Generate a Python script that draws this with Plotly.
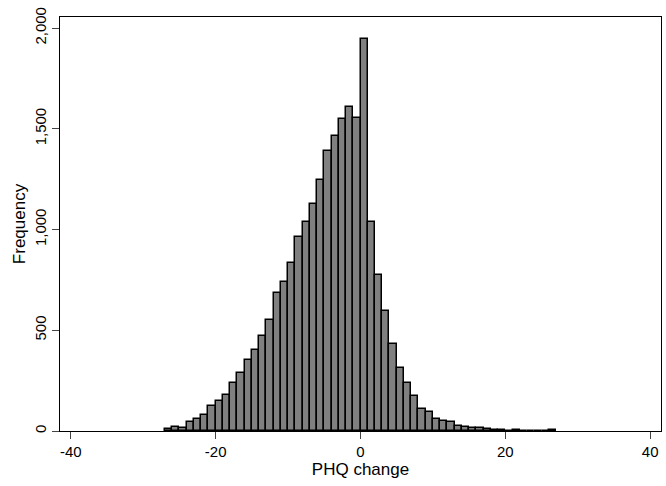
import plotly.graph_objects as go

# PHQ change bins (left edge of each unit-wide bin) and frequencies
bin_left = list(range(-27, 27))
freq = [8, 20, 14, 44, 61, 80, 124, 150, 180, 239,
        290, 351, 404, 472, 550, 686, 740, 835, 964, 1038,
        1125, 1247, 1391, 1462, 1547, 1608, 1552, 1946, 1038, 773,
        595, 431, 313, 238, 174, 108, 95, 58, 48, 46,
        27, 20, 15, 14, 8, 6, 4, 2, 5, 2,
        2, 1, 1, 5]

x_ticks = [-40, -20, 0, 20, 40]
x_tick_labels = ["-40", "-20", "0", "20", "40"]
y_ticks = [0, 500, 1000, 1500, 2000]
y_tick_labels = ["0", "500", "1,000", "1,500", "2,000"]

centers = [b + 0.5 for b in bin_left]

fig = go.Figure(go.Bar(
    x=centers, y=freq, width=1,
    marker=dict(color="#808080", line=dict(color="black", width=1.5)),
))

font = "Liberation Sans, Arial, Helvetica, sans-serif"
fig.update_layout(
    width=666, height=486,
    margin=dict(l=60, r=5, t=17, b=55),
    paper_bgcolor="white", plot_bgcolor="white",
    showlegend=False,
    font=dict(family=font, size=15, color="black"),
    bargap=0,
)
fig.update_xaxes(
    range=[-41.5, 41.5], tickvals=x_ticks, ticktext=x_tick_labels,
    ticks="outside", ticklen=7,
    tickcolor="#444", showline=True, linecolor="black", linewidth=1,
    mirror=True, showgrid=False, zeroline=False,
    title=dict(text="PHQ change", font=dict(size=17), standoff=4),
    tickfont=dict(size=15),
)
fig.update_yaxes(
    range=[0, 2055], tickvals=y_ticks, ticktext=y_tick_labels,
    ticks="outside", ticklen=7, tickcolor="#444", tickangle=-90,
    showline=True, linecolor="black", linewidth=1, mirror=True,
    showgrid=False, zeroline=False,
    title=dict(text="Frequency", font=dict(size=17), standoff=2),
    tickfont=dict(size=15),
)
fig.write_html("out.html")
